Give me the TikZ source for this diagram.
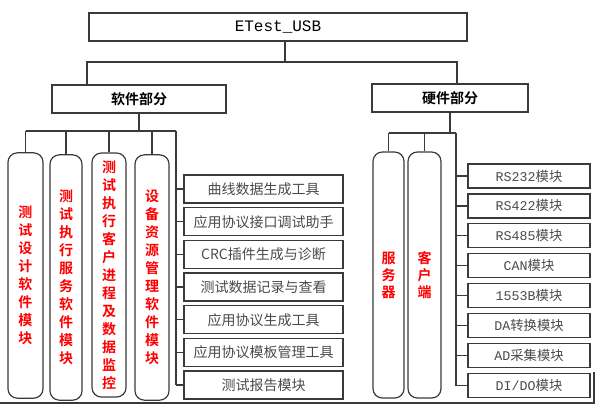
\documentclass[tikz,border=0pt]{standalone}
\usepackage{fontspec}
\setmainfont{Liberation Serif}
\setmonofont{Liberation Mono}
\newfontfamily\cjk{Noto Sans CJK SC}[BoldFont={Noto Sans CJK SC Bold}]
\usetikzlibrary{positioning}
\definecolor{cline}{HTML}{3A3A3A}
\definecolor{ctext}{HTML}{4A4A4A}
\definecolor{cred}{HTML}{FF0000}
\tikzset{
  every picture/.style={line width=0.9pt, draw=cline},
  box/.style={draw=cline, rectangle, inner sep=0pt, align=center},
  head/.style={box, font=\cjk\bfseries\fontsize{10.5}{12}\selectfont},
  pillar/.style={box, rounded corners=7pt, text=cred, font=\cjk\bfseries\fontsize{10.5}{#1}\selectfont},
  pillar/.default=13.5,
  tool/.style={box, minimum width=119.25pt, minimum height=21pt, text=ctext, font=\cjk\fontsize{10.5}{12}\selectfont},
  module/.style={box, minimum width=91.5pt, minimum height=18pt, text=ctext, font=\cjk\fontsize{10}{12}\selectfont},
  wire/.style={draw=cline, line width=0.9pt},
}
\begin{document}
\begin{tikzpicture}[x=0.75pt, y=-0.75pt]
  \useasboundingbox (0,0) rectangle (598,405);
  % root and the two parts
  \node[box, minimum width=283.5pt, minimum height=21pt, font=\ttfamily\fontsize{12}{14}\selectfont] (root) at (278,27) {ETest\_USB};
  \node[head, minimum width=130.5pt, minimum height=21pt] (soft) at (139,99) {软件部分};
  \node[head, minimum width=117pt, minimum height=21pt] (hard) at (450,98) {硬件部分};
  \coordinate (rj) at (285,62);
  \coordinate (sj) at (87,62);
  \coordinate (hj) at (457,62);
  \draw[wire] (rj) -- (rj |- root.south);
  \draw[wire] (sj |- soft.north) -- (sj) -- (hj) -- (hj |- hard.north);
  % software pillars
  \node[pillar, minimum width=26.25pt, minimum height=184pt] (p1) at (25.5,275.5) {测\\试\\设\\计\\软\\件\\模\\块};
  \node[pillar, minimum width=24pt, minimum height=184pt] (p2) at (66,277.5) {测\\试\\执\\行\\服\\务\\软\\件\\模\\块};
  \node[pillar, minimum width=25.5pt, minimum height=183pt] (p3) at (109,275) {测\\试\\执\\行\\客\\户\\进\\程\\及\\数\\据\\监\\控};
  \node[pillar, minimum width=25.5pt, minimum height=184pt] (p4) at (152,277.5) {设\\备\\资\\源\\管\\理\\软\\件\\模\\块};
  \coordinate (sb) at (139,131);
  \coordinate (sl) at (176,131);
  \draw[wire] (soft.south) -- (sb);
  \draw[wire] (p1.north |- sb) -- (sl);
  \foreach \k in {1,2,3,4} \draw[wire] (p\k.north) -- (p\k.north |- sb);
  % software tools
  \foreach \t [count=\k] in {曲线数据生成工具, 应用协议接口调试助手, CRC插件生成与诊断, 测试数据记录与查看, 应用协议生成工具, 应用协议模板管理工具, 测试报告模块}
    \node[tool] (t\k) at (263.5,{189+(\k-1)*32.67}) {\t};
  \draw[wire] (sl) -- (sl |- t7.west);
  \foreach \k in {1,...,7} \draw[wire] (sl |- t\k.west) -- (t\k.west);
  % hardware side
  \node[pillar=12.75, minimum width=23.25pt, minimum height=184.5pt] (srv) at (388.5,275) {服\\务\\器};
  \node[pillar=12.75, minimum width=24.75pt, minimum height=184.5pt] (cli) at (424.5,275) {客\\户\\端};
  \coordinate (hb) at (450,133);
  \coordinate (hl) at (456,133);
  \draw[wire] (hard.south) -- (hb);
  \draw[wire] (srv.north |- hb) -- (hl);
  \draw[wire] (srv.north) -- (srv.north |- hb);
  \draw[wire] (cli.north) -- (cli.north |- hb);
  \foreach \l/\r [count=\k] in {RS232/模块, RS422/模块, RS485/模块, CAN/模块, 1553B/模块, DA/转换模块, AD/采集模块, {DI/DO}/模块}
    \node[module] (m\k) at (529,{176+(\k-1)*29.93}) {\ttfamily\l\cjk\r};
  \draw[wire] (hl) -- (hl |- m8.west);
  \foreach \k in {1,...,8} \draw[wire] (hl |- m\k.west) -- (m\k.west);
  % frame edge
  \draw[wire] (0,403) -- (594,403) -- (594,372);
\end{tikzpicture}
\end{document}
